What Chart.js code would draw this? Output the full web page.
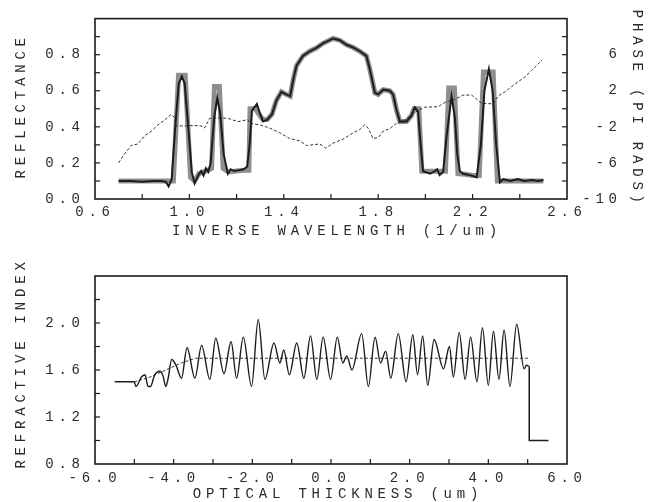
<!DOCTYPE html>
<html><head><meta charset="utf-8">
<script src="https://cdn.jsdelivr.net/npm/chart.js@4.4.1/dist/chart.umd.min.js"></script>
<style>
html,body{margin:0;padding:0;background:#fff;}
#wrap{position:relative;width:649px;height:502px;background:#fff;}
canvas{position:absolute;left:0;}
#top{top:0;width:649px;height:250px;}
#bot{top:250px;width:649px;height:252px;}
</style></head><body>
<div id="wrap"><canvas id="top" width="649" height="250"></canvas><canvas id="bot" width="649" height="252"></canvas></div>
<script>
// ---------- TOP PLOT DATA ----------
const reflTicks = ['0.0','0.2','0.4','0.6','0.8'];
const phaseTicks = ['-10','-6','-2','2','6'];
const invWlTicks = ['0.6','1.0','1.4','1.8','2.2','2.6'];

// measured reflectance (thin black)
const measX = [0.70,0.75,0.80,0.85,0.88,0.90,0.912,0.925,0.94,0.955,0.968,0.98,0.995,1.01,1.022,1.04,1.05,1.06,1.07,1.08,1.09,1.105,1.118,1.13,1.145,1.163,1.175,1.19,1.21,1.23,1.245,1.255,1.265,1.286,1.30,1.312,1.33,1.35,1.368,1.39,1.41,1.427,1.441,1.454,1.481,1.51,1.538,1.566,1.609,1.637,1.666,1.694,1.722,1.75,1.764,1.786,1.80,1.821,1.849,1.863,1.878,1.892,1.92,1.94,1.955,1.969,1.98,1.99,2.00,2.02,2.04,2.05,2.06,2.075,2.09,2.111,2.125,2.135,2.146,2.16,2.18,2.20,2.217,2.235,2.25,2.269,2.285,2.30,2.316,2.33,2.36,2.39,2.42,2.45,2.48,2.50];
const measR = [0.10,0.10,0.095,0.10,0.10,0.095,0.07,0.11,0.40,0.64,0.68,0.64,0.40,0.15,0.087,0.137,0.155,0.13,0.17,0.15,0.20,0.45,0.56,0.48,0.25,0.14,0.165,0.155,0.16,0.165,0.18,0.30,0.49,0.527,0.47,0.43,0.44,0.47,0.544,0.594,0.58,0.57,0.668,0.739,0.793,0.819,0.837,0.863,0.89,0.88,0.855,0.84,0.819,0.793,0.722,0.589,0.58,0.606,0.60,0.58,0.491,0.429,0.43,0.46,0.509,0.485,0.30,0.154,0.15,0.14,0.155,0.165,0.133,0.15,0.35,0.571,0.45,0.25,0.154,0.14,0.135,0.128,0.12,0.30,0.60,0.72,0.60,0.30,0.092,0.11,0.10,0.11,0.10,0.105,0.10,0.105];

// target reflectance (thick grey)
const targX = [0.70,0.932,0.954,0.982,1.005,1.022,1.04,1.06,1.08,1.094,1.106,1.127,1.143,1.165,1.20,1.24,1.252,1.257,1.28,1.30,1.312,1.33,1.35,1.368,1.39,1.41,1.427,1.441,1.454,1.481,1.51,1.538,1.566,1.609,1.637,1.666,1.694,1.722,1.75,1.764,1.786,1.80,1.821,1.849,1.863,1.878,1.892,1.92,1.94,1.952,1.972,1.985,2.00,2.04,2.085,2.099,2.123,2.138,2.17,2.20,2.228,2.246,2.287,2.305,2.34,2.50];
const targR = [0.10,0.10,0.686,0.686,0.12,0.10,0.14,0.15,0.16,0.17,0.624,0.624,0.17,0.15,0.155,0.16,0.16,0.50,0.50,0.46,0.44,0.44,0.47,0.544,0.594,0.58,0.57,0.668,0.739,0.793,0.819,0.837,0.863,0.89,0.88,0.855,0.84,0.819,0.793,0.722,0.589,0.58,0.606,0.60,0.58,0.491,0.429,0.43,0.46,0.50,0.50,0.154,0.154,0.154,0.154,0.615,0.615,0.14,0.137,0.13,0.13,0.704,0.704,0.10,0.10,0.10];

// phase (dashed, right axis)
const phaseX = [0.70,0.725,0.753,0.782,0.81,0.838,0.866,0.895,0.923,0.935,0.944,0.98,1.02,1.05,1.064,1.086,1.12,1.163,1.206,1.248,1.255,1.298,1.34,1.383,1.425,1.467,1.496,1.552,1.578,1.609,1.651,1.694,1.722,1.743,1.757,1.778,1.80,1.821,1.849,1.878,1.892,1.913,1.969,1.998,2.054,2.083,2.125,2.16,2.196,2.217,2.238,2.287,2.309,2.337,2.366,2.394,2.422,2.45,2.471,2.495];
const phaseV = [-6.0,-5.0,-4.07,-3.9,-3.0,-2.5,-1.8,-1.25,-0.6,-0.9,-1.9,-1.9,-1.85,-1.9,-2.13,-1.06,-1.0,-1.06,-1.42,-1.2,-1.6,-1.78,-2.13,-2.66,-3.3,-3.54,-4.07,-3.9,-4.36,-3.8,-3.37,-2.66,-2.3,-1.78,-2.13,-3.3,-3.19,-2.48,-2.2,-1.6,-1.42,-1.24,-0.18,0.18,0.23,0.71,1.06,1.52,1.52,1.06,0.6,0.55,1.42,1.88,2.48,3.01,3.54,4.26,4.79,5.43];

// ---------- BOTTOM PLOT DATA ----------
const nTicks = ['0.8','1.2','1.6','2.0'];
const thickTicks = ['-6.0','-4.0','-2.0','0.0','2.0','4.0','6.0'];

const profX = [-5.00,-4.96,-4.82,-4.73,-4.65,-4.59,-4.48,-4.35,-4.27,-4.20,-4.14,-4.05,-3.94,-3.80,-3.66,-3.46,-3.29,-3.08,-2.93,-2.72,-2.54,-2.40,-2.23,-2.02,-1.85,-1.68,-1.45,-1.30,-1.20,-1.06,-0.87,-0.69,-0.52,-0.36,-0.20,-0.01,0.16,0.30,0.40,0.53,0.78,0.95,1.12,1.26,1.39,1.52,1.71,1.91,2.08,2.20,2.33,2.46,2.62,2.86,3.01,3.11,3.26,3.41,3.55,3.71,3.85,4.00,4.13,4.27,4.40,4.55,4.72,4.91,4.97,5.04];
const profN = [1.50,1.46,1.54,1.56,1.46,1.46,1.56,1.59,1.55,1.46,1.53,1.69,1.64,1.53,1.79,1.53,1.81,1.52,1.87,1.57,1.84,1.53,1.88,1.46,2.03,1.52,1.83,1.66,1.77,1.56,1.83,1.53,1.89,1.52,1.88,1.52,1.88,1.66,1.72,1.60,1.91,1.46,1.88,1.66,1.76,1.53,1.91,1.50,1.90,1.56,1.89,1.47,1.86,1.61,1.80,1.54,1.92,1.52,1.88,1.50,1.96,1.47,1.93,1.52,1.94,1.46,1.99,1.61,1.64,1.63];

const leadX = [-5.5,-5.0];
const leadN = [1.5,1.5];
const tailX = [5.04,5.04,5.53];
const tailN = [1.63,1.0,1.0];

const avgX = [-5.0,-4.6,-4.2,-3.8,-3.45,5.04];
const avgN = [1.50,1.54,1.60,1.66,1.70,1.70];

// ---------- helpers ----------
const pts = (xs, ys) => xs.map((x, i) => ({x, y: ys[i]}));
const LS = '4.8px';
Chart.defaults.font.family = "'Liberation Mono', 'DejaVu Sans Mono', monospace";
Chart.defaults.font.size = 14;
Chart.defaults.color = '#2a2a2a';

const spacingPlugin = {
  id: 'spacing',
  beforeInit(c){ c.ctx.letterSpacing = LS; },
  beforeUpdate(c){ c.ctx.letterSpacing = LS; },
  beforeLayout(c){ c.ctx.letterSpacing = LS; },
  beforeDraw(c){ c.ctx.letterSpacing = LS; }
};

// nudges only the axis-title anchors (tick positions are already configured)
const titleShiftPlugin = {
  id: 'titleShift',
  afterLayout(chart, args, opts) {
    Object.keys(opts.shifts || {}).forEach(id => {
      const s = chart.scales[id], d = opts.shifts[id];
      if (!s) return;
      if (s.isHorizontal()) { s.left += d; s.right += d; }
      else { s.top += d; s.bottom += d; }
    });
  }
};

const framePlugin = {
  id: 'frame',
  afterDraw(chart, args, opts) {
    const {ctx, chartArea: a} = chart;
    ctx.save();
    ctx.strokeStyle = '#1a1a1a';
    ctx.lineWidth = 1.6;
    ctx.strokeRect(a.left, a.top, a.right - a.left, a.bottom - a.top);
    ctx.lineWidth = 1.2;
    (opts.marks || []).forEach(t => {
      const s = chart.scales[t.scale];
      const n = Math.round((t.to - t.from) / t.step);
      for (let k = 0; k <= n; k++) {
        const p = s.getPixelForValue(t.from + k * t.step);
        ctx.beginPath();
        if (s.isHorizontal()) { ctx.moveTo(p, a.bottom); ctx.lineTo(p, a.bottom - 5); }
        else if (s.position === 'left') { ctx.moveTo(a.left, p); ctx.lineTo(a.left + 5, p); }
        else { ctx.moveTo(a.right, p); ctx.lineTo(a.right - 5, p); }
        ctx.stroke();
      }
    });
    ctx.restore();
  }
};

const baseAxis = {
  type: 'linear',
  grid: {display: false, drawTicks: false},
  border: {display: false}
};

// ---------- TOP CHART ----------
new Chart(document.getElementById('top'), {
  type: 'line',
  data: {datasets: [
    {data: pts(measX, measR), borderColor: '#1c1c1c', borderWidth: 2, pointRadius: 0, tension: 0, yAxisID: 'y', order: 0},
    {data: pts(phaseX, phaseV), borderColor: '#333', borderWidth: 1, borderDash: [3, 2], pointRadius: 0, tension: 0, yAxisID: 'y1', order: 1},
    {data: pts(targX, targR), borderColor: '#8e8e8e', borderWidth: 5, pointRadius: 0, tension: 0, yAxisID: 'y', order: 2}
  ]},
  options: {
    responsive: false, animation: false, events: [],
    layout: {padding: {top: 11, right: 27.2, left: 0, bottom: 0}},
    plugins: {
      legend: {display: false}, tooltip: {enabled: false},
      titleShift: {shifts: {x: 6, y: -3}},
      frame: {marks: [
        {scale: 'x', from: 0.8, to: 2.4, step: 0.2},
        {scale: 'y', from: 0.1, to: 0.9, step: 0.1},
        {scale: 'y1', from: -8, to: 8, step: 2}
      ]}
    },
    scales: {
      x: Object.assign({}, baseAxis, {
        min: 0.6, max: 2.6,
        afterBuildTicks: s => { s.ticks = invWlTicks.map(t => ({value: parseFloat(t)})); },
        ticks: {padding: 4.6, maxRotation: 0, autoSkip: false, callback: (v, i) => invWlTicks[i]},
        title: {display: true, text: 'INVERSE WAVELENGTH (1/um)', padding: {top: 0, bottom: 10.6}},
        afterFit: s => { s.height = 51; }
      }),
      y: Object.assign({}, baseAxis, {
        position: 'left', min: 0, max: 1,
        afterBuildTicks: s => { s.ticks = reflTicks.map(t => ({value: parseFloat(t)})); },
        ticks: {padding: 10.2, autoSkip: false, callback: (v, i) => reflTicks[i]},
        title: {display: true, text: 'REFLECTANCE', padding: {top: 12.6, bottom: 0}},
        afterFit: s => { s.width = 95; }
      }),
      y1: Object.assign({}, baseAxis, {
        position: 'right', min: -10, max: 10,
        afterBuildTicks: s => { s.ticks = phaseTicks.map(t => ({value: parseFloat(t)})); },
        ticks: {crossAlign: 'far', autoSkip: false, callback: (v, i) => phaseTicks[i]},
        title: {display: true, text: 'PHASE (PI RADS)', padding: {top: -23.6, bottom: 0}},
        afterFit: s => { s.width = 54.8; }
      })
    }
  },
  plugins: [spacingPlugin, titleShiftPlugin, framePlugin]
});

// ---------- BOTTOM CHART ----------
new Chart(document.getElementById('bot'), {
  type: 'line',
  data: {datasets: [
    {data: pts(profX, profN), borderColor: '#1c1c1c', borderWidth: 1.4, pointRadius: 0, cubicInterpolationMode: 'monotone', order: 0},
    {data: pts(leadX, leadN), borderColor: '#1c1c1c', borderWidth: 1.5, pointRadius: 0, tension: 0, order: 0},
    {data: pts(tailX, tailN), borderColor: '#1c1c1c', borderWidth: 1.5, pointRadius: 0, tension: 0, order: 0},
    {data: pts(avgX, avgN), borderColor: '#333', borderWidth: 1, borderDash: [3, 2], pointRadius: 0, tension: 0, order: 1}
  ]},
  options: {
    responsive: false, animation: false, events: [],
    layout: {padding: {top: 26, right: 82, left: 0, bottom: 0}},
    plugins: {
      legend: {display: false}, tooltip: {enabled: false},
      titleShift: {shifts: {x: 7, y: -7}},
      frame: {marks: [
        {scale: 'x', from: -5, to: 5, step: 1},
        {scale: 'y', from: 1.0, to: 2.2, step: 0.2}
      ]}
    },
    scales: {
      x: Object.assign({}, baseAxis, {
        min: -6, max: 6,
        afterBuildTicks: s => { s.ticks = thickTicks.map(t => ({value: parseFloat(t)})); },
        ticks: {padding: 5.6, maxRotation: 0, autoSkip: false, callback: (v, i) => thickTicks[i]},
        title: {display: true, text: 'OPTICAL THICKNESS (um)', padding: {top: 0, bottom: -0.4}},
        afterFit: s => { s.height = 38; }
      }),
      y: Object.assign({}, baseAxis, {
        position: 'left', min: 0.8, max: 2.4,
        afterBuildTicks: s => { s.ticks = nTicks.map(t => ({value: parseFloat(t)})); },
        ticks: {padding: 10.2, autoSkip: false, callback: (v, i) => nTicks[i]},
        title: {display: true, text: 'REFRACTIVE INDEX', padding: {top: 12.6, bottom: 0}},
        afterFit: s => { s.width = 95; }
      })
    }
  },
  plugins: [spacingPlugin, titleShiftPlugin, framePlugin]
});
</script>
</body></html>
